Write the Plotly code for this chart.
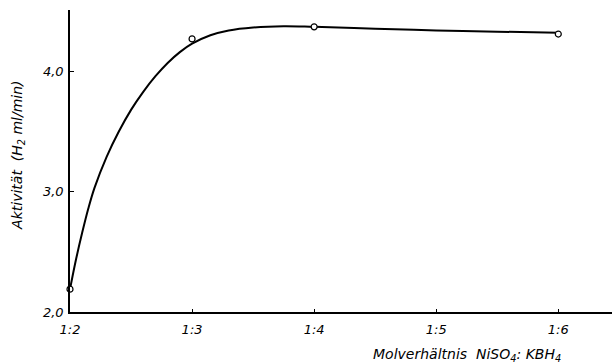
import plotly.graph_objects as go

# measured points (ratio 1:n -> n)
ratio = [2, 3, 4, 6]
activity = [2.19, 4.27, 4.37, 4.31]

# drawn trend curve
curve_x = [2.0, 2.05, 2.1, 2.15, 2.2, 2.3, 2.4, 2.5, 2.6, 2.7, 2.8, 2.9, 3.0,
           3.15, 3.3, 3.5, 3.75, 4.0, 4.5, 5.0, 5.5, 6.0]
curve_y = [2.19, 2.44, 2.66, 2.86, 3.03, 3.29, 3.50, 3.68, 3.83, 3.96, 4.07, 4.16, 4.23,
           4.30, 4.34, 4.365, 4.375, 4.37, 4.355, 4.34, 4.33, 4.32]

x_ticks = [2, 3, 4, 5, 6]
x_labels = ["1:2", "1:3", "1:4", "1:5", "1:6"]
y_ticks = [2.0, 3.0, 4.0]
y_labels = ["2,0", "3,0", "4,0"]

font_fam = "DejaVu Sans"

fig = go.Figure()
fig.add_trace(go.Scatter(x=curve_x, y=curve_y, mode="lines",
                         line=dict(color="black", width=2, shape="spline", smoothing=1.0),
                         hoverinfo="skip", showlegend=False))
fig.add_trace(go.Scatter(x=ratio, y=activity, mode="markers",
                         marker=dict(symbol="circle", size=6, color="white",
                                     line=dict(color="black", width=1.2)),
                         showlegend=False, cliponaxis=False))

fig.update_layout(
    width=612, height=363,
    margin=dict(l=70, r=0, t=10, b=51),
    paper_bgcolor="white", plot_bgcolor="white",
    font=dict(family=font_fam, color="black", size=13),
    xaxis=dict(range=[2, 6.44], tickvals=x_ticks, ticktext=x_labels,
               showgrid=False, zeroline=False, showline=True, linecolor="black", linewidth=1.5,
               ticks="inside", ticklen=3, tickcolor="black", ticklabelstandoff=5,
               tickfont=dict(family=font_fam, size=13, style="italic")),
    yaxis=dict(range=[2, 4.51], tickvals=y_ticks, ticktext=y_labels,
               showgrid=False, zeroline=False, showline=True, linecolor="black", linewidth=1.5,
               ticks="inside", ticklen=4, tickcolor="black", ticklabelstandoff=2,
               tickfont=dict(family=font_fam, size=13, style="italic")),
    annotations=[
        dict(text="Molverhältnis  NiSO<sub>4</sub>: KBH<sub>4</sub>", xref="paper", yref="paper",
             x=0.91, y=-0.142, xanchor="right", yanchor="middle", showarrow=False,
             font=dict(family=font_fam, size=14, style="italic")),
        dict(text="Aktivität  (H<sub>2</sub> ml/min)", xref="paper", yref="paper",
             x=-0.096, y=0.52, xanchor="center", yanchor="middle", textangle=-90, showarrow=False,
             font=dict(family=font_fam, size=14, style="italic")),
    ],
)

fig.write_html("out.html")
